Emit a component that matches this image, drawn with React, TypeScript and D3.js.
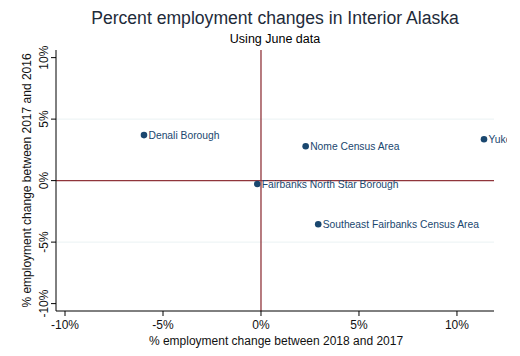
import React from "react";
import * as d3 from "d3";

const areas = ["Denali Borough", "Nome Census Area", "Yukon-Koyukuk Census Area", "Fairbanks North Star Borough", "Southeast Fairbanks Census Area"];
const changeX = [-5.97, 2.28, 11.38, -0.19, 2.92];
const changeY = [3.7, 2.79, 3.36, -0.27, -3.55];
const xTicks = [-10, -5, 0, 5, 10];
const yTicks = [-10, -5, 0, 5, 10];
const gridY = [-5, 5];

const W = 520, H = 356;
const left = 56, right = 494, top = 50, bottom = 311;

export default function App() {
  const x = d3.scaleLinear().domain([-10.46, 11.89]).range([left, right]);
  const y = d3.scaleLinear().domain([-10.6, 10.62]).range([bottom, top]);
  const font = "'Liberation Sans', Arial, sans-serif";
  const navy = "#1a476f";
  const maroon = "#90353b";
  return (
    <svg width={W} height={H} style={{ position: "absolute", left: 0, top: 0, background: "#fff" }} fontFamily={font}>
      <defs>
        <clipPath id="clip">
          <rect x={left} y={top - 5} width={507 - left} height={bottom - top + 5} />
        </clipPath>
      </defs>
      <rect width={W} height={H} fill="#fff" />
      <text x={275} y={24} textAnchor="middle" fontSize={17.6} fill="#1e2b3a">Percent employment changes in Interior Alaska</text>
      <text x={275} y={43} textAnchor="middle" fontSize={12.5} fill="#000">Using June data</text>
      {gridY.map((v) => (
        <line key={v} x1={left} x2={right} y1={y(v)} y2={y(v)} stroke="#eaf2f3" strokeWidth={1} />
      ))}
      <line x1={x(0)} x2={x(0)} y1={top} y2={bottom} stroke={maroon} strokeWidth={1.3} />
      <line x1={left} x2={right} y1={y(0)} y2={y(0)} stroke={maroon} strokeWidth={1.3} />
      <line x1={left} x2={left} y1={top} y2={bottom} stroke="#000" strokeWidth={1} />
      <line x1={left} x2={right} y1={bottom} y2={bottom} stroke="#000" strokeWidth={1} />
      {yTicks.map((v) => (
        <g key={v}>
          <line x1={left - 5} x2={left} y1={y(v)} y2={y(v)} stroke="#000" />
          <text transform={`translate(${left - 8},${y(v)}) rotate(-90)`} textAnchor="middle" fontSize={12} fill="#111">{`${v}%`}</text>
        </g>
      ))}
      {xTicks.map((v) => (
        <g key={v}>
          <line x1={x(v)} x2={x(v)} y1={bottom} y2={bottom + 5} stroke="#000" />
          <text x={x(v)} y={329} textAnchor="middle" fontSize={12} fill="#111">{`${v}%`}</text>
        </g>
      ))}
      <text x={(left + right) / 2 + 1} y={345} textAnchor="middle" fontSize={12} fill="#111">% employment change between 2018 and 2017</text>
      <text transform={`translate(31,${(top + bottom) / 2}) rotate(-90)`} textAnchor="middle" fontSize={12} fill="#111">% employment change between 2017 and 2016</text>
      <g clipPath="url(#clip)">
        {areas.map((a, i) => (
          <g key={a}>
            <circle cx={x(changeX[i])} cy={y(changeY[i])} r={3.3} fill={navy} />
            <text x={x(changeX[i]) + 4.5} y={y(changeY[i])} dy="0.35em" fontSize={10.3} fill={navy}>{a}</text>
          </g>
        ))}
      </g>
    </svg>
  );
}
